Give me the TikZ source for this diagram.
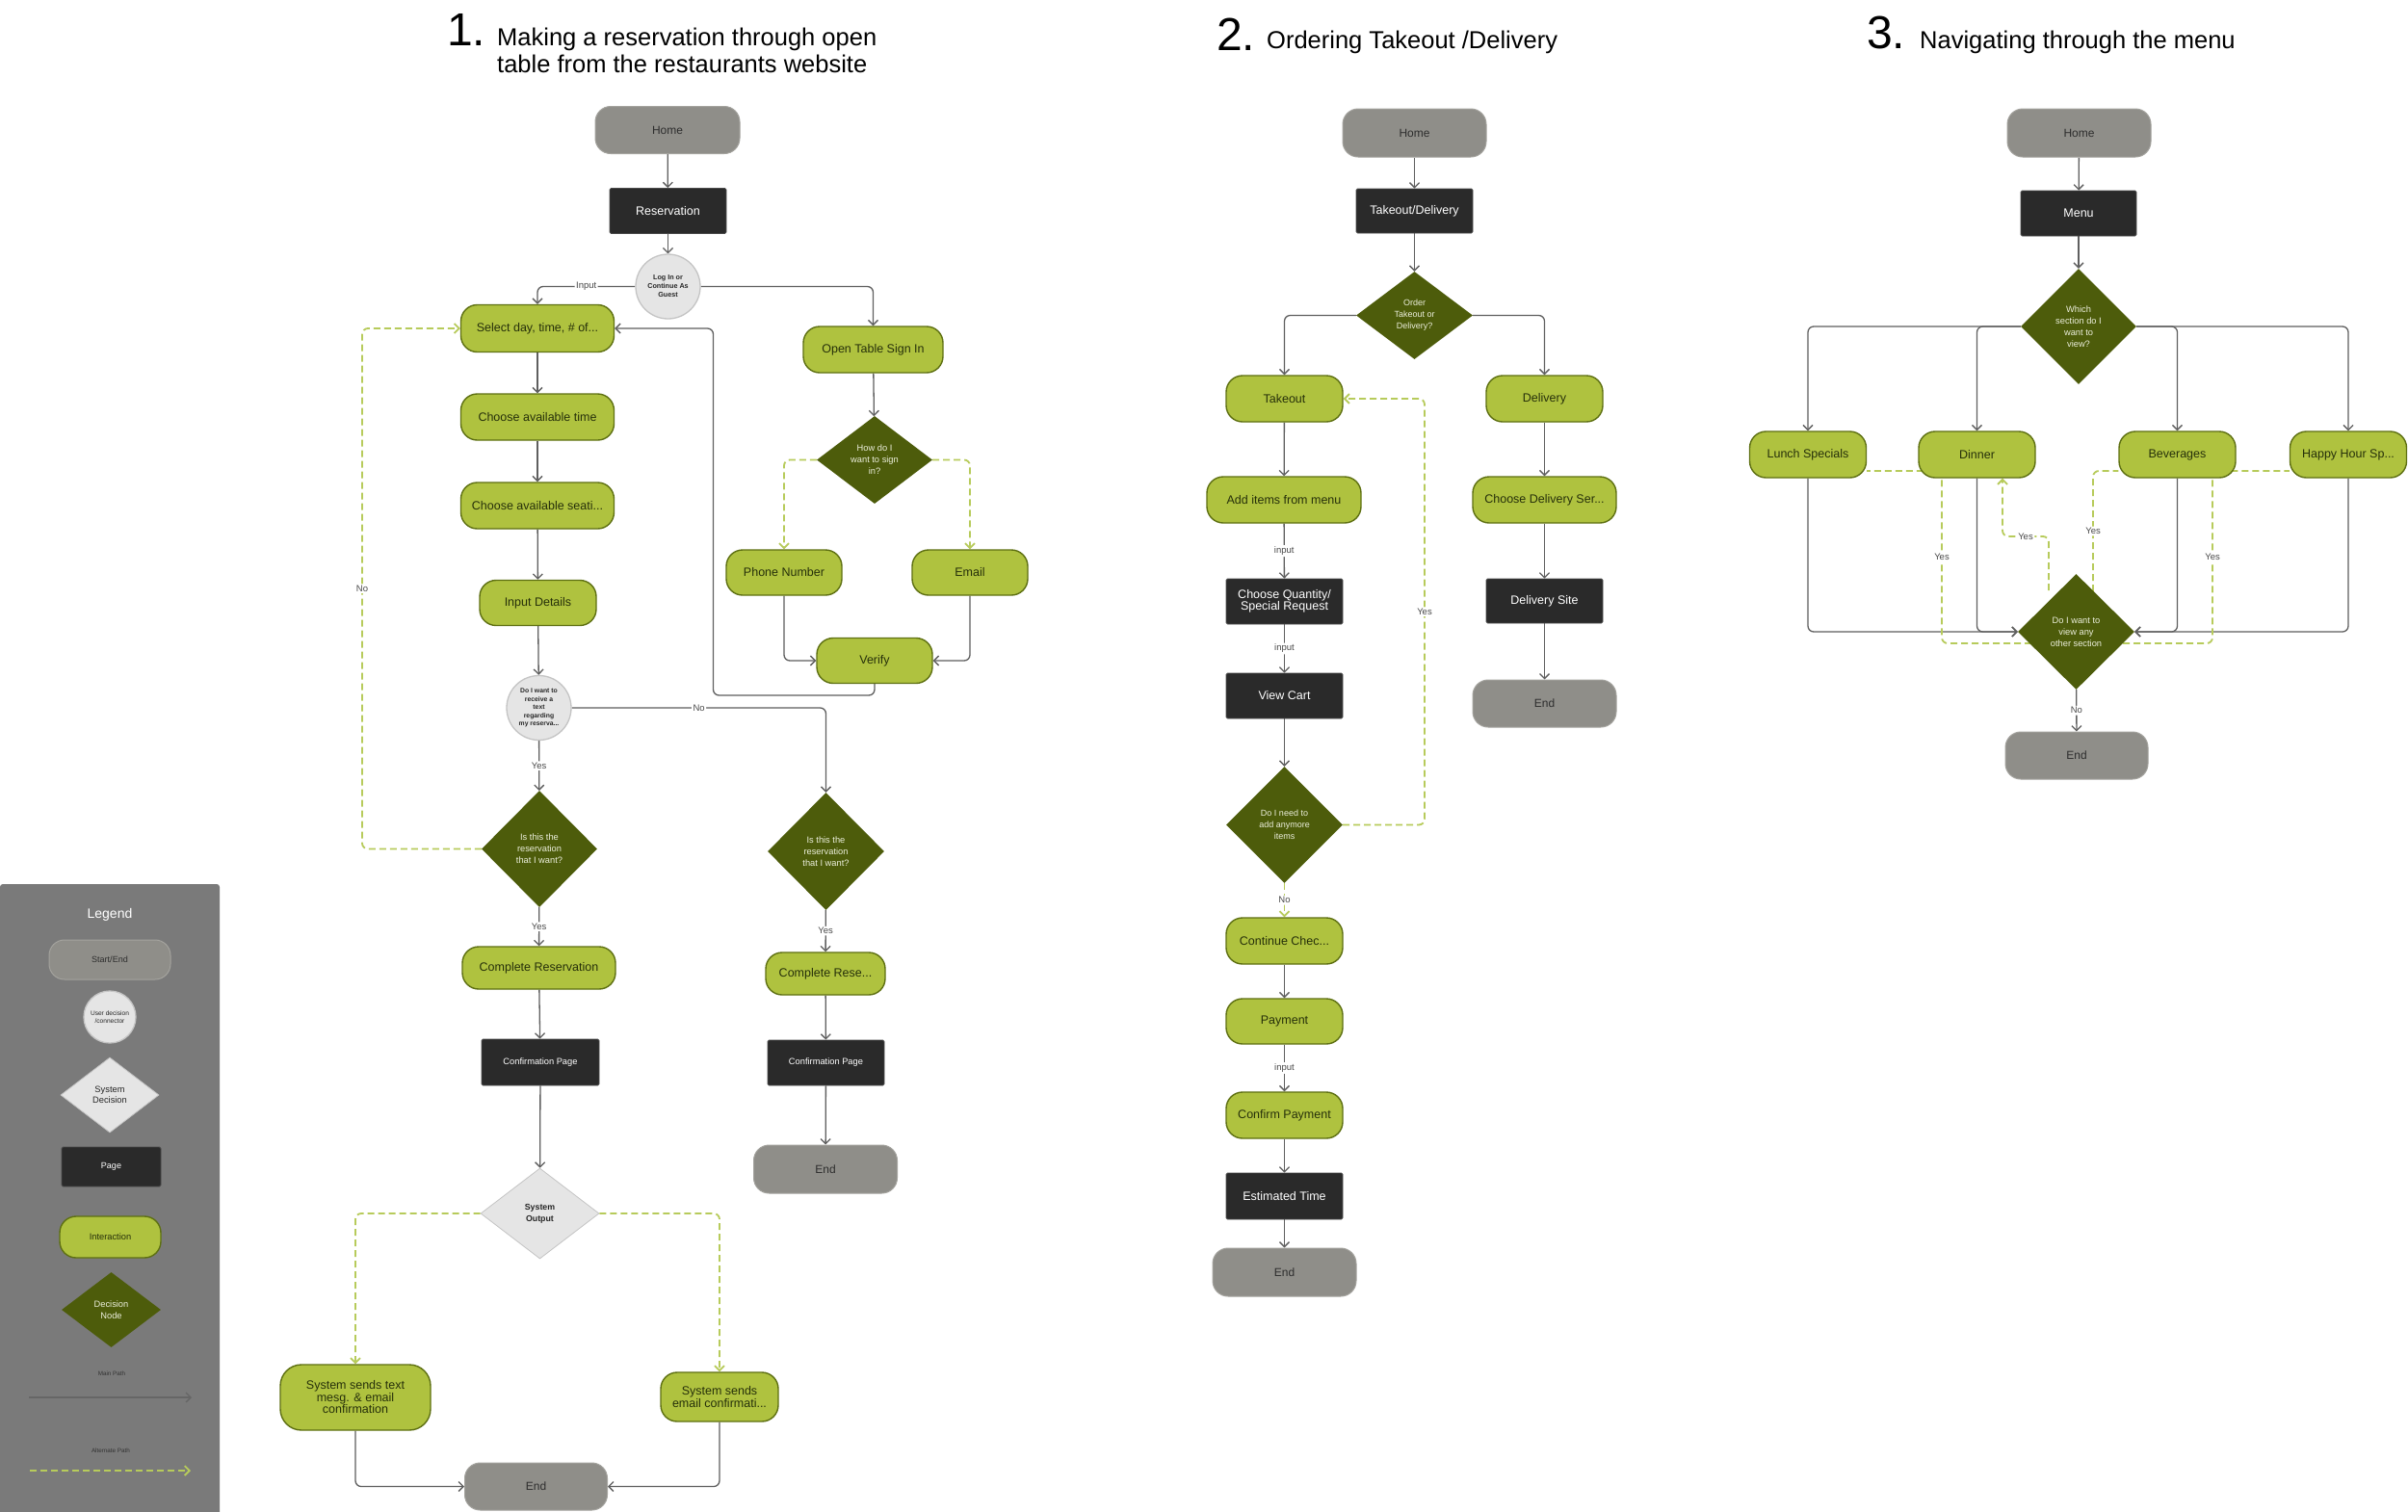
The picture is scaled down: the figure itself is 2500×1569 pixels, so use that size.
\documentclass[tikz,border=0pt]{standalone}
\usepackage{fontspec}
\setmainfont{Liberation Sans}
\usetikzlibrary{shapes.geometric,arrows.meta}
\pgfdeclarelayer{bg}
\pgfsetlayers{bg,main}
\definecolor{grn}{HTML}{AFC23F}
\definecolor{grnborder}{HTML}{5E7012}
\definecolor{grntxt}{HTML}{26300A}
\definecolor{decfill}{HTML}{4D5C0B}
\definecolor{dectxt}{HTML}{ECEFDC}
\definecolor{pagebg}{HTML}{2A2A2A}
\definecolor{pageborder}{HTML}{4A4A4A}
\definecolor{endgray}{HTML}{8F8E89}
\definecolor{endborder}{HTML}{A4A39E}
\definecolor{endtxt}{HTML}{2E2E2E}
\definecolor{connfill}{HTML}{E5E5E5}
\definecolor{connborder}{HTML}{C4C4C4}
\definecolor{linec}{HTML}{5F5F5F}
\definecolor{altc}{HTML}{B7CB5B}
\definecolor{lgbg}{HTML}{7A7A7A}
\definecolor{lbltxt}{HTML}{4A4A4A}
\newcommand{\fsz}[2]{\fontsize{#1pt}{#2pt}\selectfont}
\tikzset{
  nbase/.style={align=center, inner sep=0pt},
  startend/.style={nbase, rectangle, rounded corners=16pt, fill=endgray, draw=endborder, line width=1pt,
    minimum width=149pt, minimum height=49pt, text=endtxt, font=\fsz{12}{14}},
  page/.style={nbase, rectangle, rounded corners=1.5pt, fill=pagebg, draw=pageborder, line width=0.8pt,
    minimum width=121pt, minimum height=47pt, text=white, font=\fsz{12.5}{13.5}},
  inter/.style={nbase, rectangle, rounded corners=17pt, fill=grn, draw=grnborder, line width=1.4pt,
    minimum width=121pt, minimum height=48pt, text=grntxt, font=\fsz{12.5}{13.5}},
  dec/.style={nbase, diamond, fill=decfill, minimum width=121pt, minimum height=121pt, text=dectxt,
    font=\fsz{9.3}{12}},
  conn/.style={nbase, circle, fill=connfill, draw=connborder, line width=1.3pt, minimum size=67pt,
    text=black!85, font=\bfseries\fsz{7.2}{9}},
  sysdec/.style={nbase, diamond, fill=connfill, draw=connborder, line width=0.8pt, text=black!85},
  main/.style={draw=linec, line width=1.3pt, rounded corners=6pt, -{Straight Barb[length=5pt,width=10pt]}},
  alt/.style={draw=altc, line width=1.8pt, dash pattern=on 7pt off 4pt, rounded corners=6pt},
  altar/.style={alt, -{Straight Barb[length=5pt,width=10pt]}},
  lbl/.style={fill=white, inner sep=1.5pt, text=lbltxt, font=\fsz{9.5}{11}},
  ttl/.style={inner sep=0pt, anchor=base west, font=\fsz{25.5}{28}, text=black},
  num/.style={inner sep=0pt, anchor=base west, font=\fsz{48}{48}, text=black},
}
\begin{document}
\begin{tikzpicture}[x=1pt,y=-1pt]
\useasboundingbox (0,0) rectangle (2500,1569);
\begin{pgfonlayer}{bg}
\fill[white] (0,0) rectangle (2500,1569);
\end{pgfonlayer}

% ---------------- titles
\node[num] (t1n) at (464,47) {1.};
\node[ttl] (t1a) at (516,47) {Making a reservation through open};
\node[ttl] (t1b) at (516,75) {table from the restaurants website};
\node[num] (t2n) at (1263,52) {2.};
\node[ttl] (t2a) at (1315,50) {Ordering Takeout /Delivery};
\node[num] (t3n) at (1938,50) {3.};
\node[ttl] (t3a) at (1993,50) {Navigating through the menu};

% ---------------- legend
\fill[lgbg, rounded corners=3pt] (0,918) rectangle (228,1580);
\node[text=white, font=\fsz{14}{16}] (lgt) at (114,950) {Legend};
\node[startend, minimum width=126pt, minimum height=41pt, font=\fsz{9}{11}] (lse) at (114,996.5) {Start/End};
\node[conn, minimum size=54pt, font=\fsz{6.6}{8.5}] (lcn) at (114,1056) {User decision\\/connector};
\node[sysdec, minimum width=102pt, minimum height=78pt, font=\fsz{9.3}{11.5}] (lsd) at (114,1137) {System\\Decision};
\node[page, minimum width=103pt, minimum height=41pt, font=\fsz{9}{11}] (lpg) at (115.5,1211.5) {Page};
\node[inter, minimum width=105pt, minimum height=43pt, font=\fsz{9.3}{11}] (lin) at (114.5,1284.5) {Interaction};
\node[dec, minimum width=103pt, minimum height=78pt, font=\fsz{9.3}{11.5}] (ldn) at (115.5,1360) {Decision\\Node};
\node[text=black!80, font=\fsz{6.3}{8}] (lmp) at (116,1426) {Main Path};
\node[text=black!80, font=\fsz{6.3}{8}] (lap) at (115,1506) {Alternate Path};
\coordinate (lm1) at (30,1451);
\coordinate (lm2) at (199,1451);
\coordinate (la1) at (31,1527);
\coordinate (la2) at (198,1527);
\draw[main, draw=black!60] (lm1) -- (lm2);
\draw[altar] (la1) -- (la2);

% ---------------- section 1 nodes
\node[startend, minimum width=150pt] (h1) at (693,135) {Home};
\node[page] (r1) at (693.5,219) {Reservation};
\node[conn] (c1) at (693.5,297.5) {Log In or\\Continue As\\Guest};
\node[inter, minimum width=159pt, minimum height=49pt] (sel) at (558,341) {Select day, time, \# of...};
\node[inter, minimum width=159pt] (cat) at (558,433) {Choose available time};
\node[inter, minimum width=159pt] (cas) at (558,525) {Choose available seati...};
\node[inter, minimum height=47pt] (inp) at (558.5,626) {Input Details};
\node[conn, font=\bfseries\fsz{6.8}{8.6}] (c2) at (559.5,735) {Do I want to\\receive a\\text\\regarding\\my reserva...};
\node[inter, minimum width=145pt] (ots) at (906.5,363) {Open Table Sign In};
\node[dec, minimum width=120pt, minimum height=91pt, font=\fsz{9.3}{12}] (d1) at (908,477.5) {How do I\\want to sign\\in?};
\node[inter, minimum width=120pt, minimum height=47pt] (ph) at (814,594.5) {Phone Number};
\node[inter, minimum width=120pt, minimum height=47pt] (em) at (1007,594.5) {Email};
\node[inter, minimum width=120pt, minimum height=47pt] (ver) at (908,686) {Verify};
\node[dec, minimum width=120pt] (d2) at (560,881.5) {Is this the\\reservation\\that I want?};
\node[dec, minimum height=122pt] (d3) at (857.5,884) {Is this the\\reservation\\that I want?};
\node[inter, minimum width=159pt, minimum height=44pt] (cr1) at (559.5,1005) {Complete Reservation};
\node[inter, minimum width=124pt, minimum height=44pt] (cr2) at (857,1011) {Complete Rese...};
\node[page, minimum width=122pt, minimum height=48pt, font=\fsz{9.3}{11}] (cp1) at (561,1103) {Confirmation Page};
\node[page, font=\fsz{9.3}{11}] (cp2) at (857.5,1103.5) {Confirmation Page};
\node[sysdec, minimum width=123pt, minimum height=94pt, font=\bfseries\fsz{8.8}{12}] (so) at (560.5,1260) {System\\Output};
\node[startend, minimum height=50pt] (e1r) at (857,1214) {End};
\node[inter, minimum width=156pt, minimum height=68pt, rounded corners=22pt, font=\fsz{12.5}{12.5}] (sst) at (369,1451) {System sends text\\mesg. \& email\\confirmation};
\node[inter, minimum width=122pt, minimum height=51pt, font=\fsz{12.5}{12.5}] (sse) at (747,1450.5) {System sends\\email confirmati...};
\node[startend, minimum width=148pt] (e1) at (556.5,1543.5) {End};

% ---------------- section 2 nodes
\node[startend, minimum height=50pt] (h2) at (1468.5,138) {Home};
\node[page, minimum height=46pt] (td) at (1468.5,219) {Takeout/Delivery};
\node[dec, minimum height=91pt, font=\fsz{9}{12}] (d4) at (1468.5,327.5) {Order\\Takeout or\\Delivery?};
\node[inter] (tk) at (1333.5,414) {Takeout};
\node[inter] (dl) at (1603.5,414) {Delivery};
\node[inter, minimum width=160pt] (aim) at (1333,519) {Add items from menu};
\node[page, font=\fsz{12.5}{12.5}] (cq) at (1333.5,624.5) {Choose Quantity/\\Special Request};
\node[page] (vc) at (1333.5,722.5) {View Cart};
\node[dec, font=\fsz{9}{12}] (d5) at (1333.5,856.5) {Do I need to\\add anymore\\items};
\node[inter] (cc) at (1333.5,977) {Continue Chec...};
\node[inter, minimum height=47pt] (pay) at (1333.5,1060.5) {Payment};
\node[inter] (cpay) at (1333.5,1158) {Confirm Payment};
\node[page, minimum height=48pt] (et) at (1333.5,1242) {Estimated Time};
\node[startend, minimum height=50pt] (e2) at (1333.5,1321) {End};
\node[inter, minimum width=149pt] (cds) at (1603.5,519) {Choose Delivery Ser...};
\node[page, minimum height=46pt] (ds) at (1603.5,624) {Delivery Site};
\node[startend] (e2r) at (1603.5,730.5) {End};

% ---------------- section 3 nodes
\node[startend, minimum height=50pt] (h3) at (2158.5,138) {Home};
\node[page, minimum width=120pt] (mn) at (2158,221.5) {Menu};
\node[dec, minimum width=120pt, minimum height=120pt] (d6) at (2158,339) {Which\\section do I\\want to\\view?};
\node[inter] (ls) at (1877,472) {Lunch Specials};
\node[inter] (dn) at (2052.5,472) {Dinner};
\node[inter] (bv) at (2260.5,472) {Beverages};
\node[inter] (hh) at (2438,472) {Happy Hour Sp...};
\node[dec, minimum height=120pt] (d7) at (2155.5,656) {Do I want to\\view any\\other section};
\node[startend, minimum width=148pt] (e3) at (2156,784.5) {End};

% helper coordinates
\coordinate (vb) at (740.5,722);
\coordinate (nl) at (376,881.5);
\coordinate (yb) at (1479,856.5);
\coordinate (qa) at (2109,668);
\coordinate (qb) at (2016,668);
\coordinate (qc) at (2127,613);
\coordinate (qd) at (2079,557);
\coordinate (qe) at (2173,614);
\coordinate (qf) at (2204,668);
\coordinate (qg) at (2297,668);
\coordinate (qy) at (0,489);

\begin{pgfonlayer}{bg}
% ---------- section 1 connectors
\draw[main] (h1) -- (r1);
\draw[main] (r1) -- (c1);
\draw[main] (c1.west) -- node[lbl]{Input} (sel.north |- c1.west) -- (sel.north);
\draw[main] (c1.east) -- (ots.north |- c1.east) -- (ots.north);
\draw[main] (sel) -- (cat);
\draw[main] (cat) -- (cas);
\draw[main] (cas) -- (inp);
\draw[main] (inp) -- (c2);
\draw[main] (c2) -- node[lbl]{Yes} (d2);
\draw[main] (d2) -- node[lbl]{Yes} (cr1);
\draw[main] (cr1) -- (cp1);
\draw[main] (cp1) -- (so);
\draw[main] (c2.east) -- node[lbl]{No} (d3.north |- c2.east) -- (d3.north);
\draw[main] (d3) -- node[lbl]{Yes} (cr2);
\draw[main] (cr2) -- (cp2);
\draw[main] (cp2) -- (e1r);
\draw[main] (ots) -- (d1);
\draw[altar] (d1.west) -- (ph.north |- d1.west) -- (ph.north);
\draw[altar] (d1.east) -- (em.north |- d1.east) -- (em.north);
\draw[main] (ph.south) -- (ph.south |- ver.west) -- (ver.west);
\draw[main] (em.south) -- (em.south |- ver.east) -- (ver.east);
\draw[main] (ver.south) -- (ver.south |- vb) -- (vb) -- (vb |- sel.east) -- (sel.east);
\draw[altar] (d2.west) -- (nl) -- node[lbl]{No} (nl |- sel.west) -- (sel.west);
\draw[altar] (so.west) -- (sst.north |- so.west) -- (sst.north);
\draw[altar] (so.east) -- (sse.north |- so.east) -- (sse.north);
\draw[main] (sst.south) -- (sst.south |- e1.west) -- (e1.west);
\draw[main] (sse.south) -- (sse.south |- e1.east) -- (e1.east);

% ---------- section 2 connectors
\draw[main] (h2) -- (td);
\draw[main] (td) -- (d4);
\draw[main] (d4.west) -- (tk.north |- d4.west) -- (tk.north);
\draw[main] (d4.east) -- (dl.north |- d4.east) -- (dl.north);
\draw[main] (tk) -- (aim);
\draw[main] (aim) -- node[lbl]{input} (cq);
\draw[main] (cq) -- node[lbl]{input} (vc);
\draw[main] (vc) -- (d5);
\draw[altar] (d5) -- node[lbl]{No} (cc);
\draw[altar] (d5.east) -- (yb) -- node[lbl]{Yes} (yb |- tk.east) -- (tk.east);
\draw[main] (cc) -- (pay);
\draw[main] (pay) -- node[lbl]{input} (cpay);
\draw[main] (cpay) -- (et);
\draw[main] (et) -- (e2);
\draw[main] (dl) -- (cds);
\draw[main] (cds) -- (ds);
\draw[main] (ds) -- (e2r);

% ---------- section 3 connectors
\draw[main] (h3) -- (mn);
\draw[main] (mn) -- (d6);
\draw[main] (d6.west) -- (ls.north |- d6.west) -- (ls.north);
\draw[main] (d6.west) -- (dn.north |- d6.west) -- (dn.north);
\draw[main] (d6.east) -- (bv.north |- d6.east) -- (bv.north);
\draw[main] (d6.east) -- (hh.north |- d6.east) -- (hh.north);
\draw[main] (ls.south) -- (ls.south |- d7.west) -- (d7.west);
\draw[main] (dn.south) -- (dn.south |- d7.west) -- (d7.west);
\draw[main] (bv.south) -- (bv.south |- d7.east) -- (d7.east);
\draw[main] (hh.south) -- (hh.south |- d7.east) -- (d7.east);
\draw[main] (d7) -- node[lbl]{No} (e3);
\draw[alt] (qa) -- (qb) -- node[lbl]{Yes} (qb |- qy) -- (ls.east |- qy);
\draw[altar] (qc) -- (qc |- qd) -- node[lbl]{Yes} (qd) -- (qd |- dn.south);
\draw[alt] (qe) -- node[lbl]{Yes} (qe |- qy) -- (bv.west |- qy);
\draw[alt] (qf) -- (qg) -- node[lbl]{Yes} (qg |- qy) -- (hh.west |- qy);
\end{pgfonlayer}
\end{tikzpicture}
\end{document}
